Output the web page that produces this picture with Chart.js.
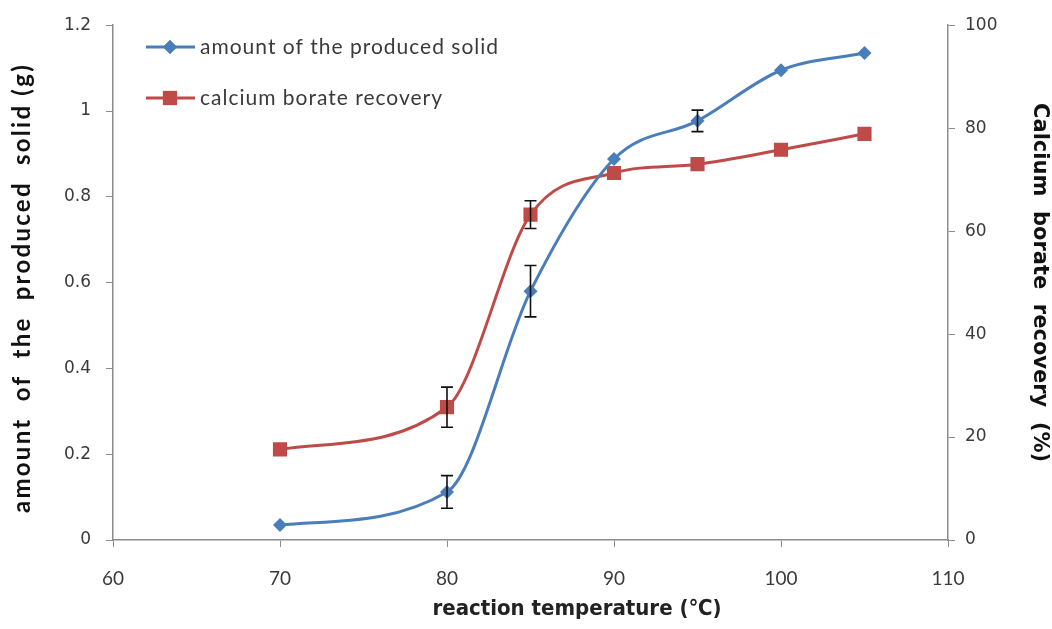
<!DOCTYPE html>
<html>
<head>
<meta charset="utf-8">
<script src="https://cdn.jsdelivr.net/npm/chart.js@4/dist/chart.umd.min.js"></script>
<style>
  html, body { margin: 0; padding: 0; background: #fff; }
  #wrap { width: 1052px; height: 629px; }
</style>
</head>
<body>
<div id="wrap"><canvas id="chart" width="1052" height="629"></canvas></div>
<script>
// reaction temperature (°C)
const temps = [70, 80, 85, 90, 95, 100, 105];
// amount of the produced solid (g), left axis
const solid = [0.035, 0.112, 0.58, 0.888, 0.977, 1.095, 1.135];
const solidErr = [0, 0.038, 0.06, 0, 0.025, 0, 0];
// calcium borate recovery (%), right axis
const recovery = [17.6, 25.8, 63.2, 71.3, 73.0, 75.8, 78.9];
const recoveryErr = [0, 3.9, 2.7, 0, 0, 0, 0];

const BLUE = '#4a7ebb', RED = '#be4b48';
const AXIS = '#8c8c8c', TXT = '#3a3a3a';
const pts = (ys) => temps.map((x, i) => ({ x, y: ys[i] }));

// error bars drawn from the scales
const errorBars = {
  id: 'errorBars',
  afterDatasetsDraw(chart) {
    const ctx = chart.ctx, xs = chart.scales.x;
    const sets = [[solid, solidErr, chart.scales.y], [recovery, recoveryErr, chart.scales.y2]];
    ctx.save();
    ctx.strokeStyle = '#111';
    ctx.lineWidth = 1.6;
    for (const [vals, errs, ys] of sets) {
      vals.forEach((v, i) => {
        if (!errs[i]) return;
        const px = xs.getPixelForValue(temps[i]);
        const top = ys.getPixelForValue(v + errs[i]), bot = ys.getPixelForValue(v - errs[i]);
        ctx.beginPath();
        ctx.moveTo(px, top); ctx.lineTo(px, bot);
        ctx.moveTo(px - 6, top); ctx.lineTo(px + 6, top);
        ctx.moveTo(px - 6, bot); ctx.lineTo(px + 6, bot);
        ctx.stroke();
      });
    }
    ctx.restore();
  }
};

// legend inside the plot (top left), left axis title and x axis title
const extras = {
  id: 'extras',
  afterDraw(chart) {
    const ctx = chart.ctx;
    const items = [
      { label: 'amount of the produced solid', color: BLUE, style: 'rectRot', r: 7, y: 47 },
      { label: 'calcium borate recovery', color: RED, style: 'rect', r: 10, y: 98 },
    ];
    ctx.save();
    for (const it of items) {
      ctx.strokeStyle = it.color;
      ctx.lineWidth = 3;
      ctx.beginPath(); ctx.moveTo(146, it.y); ctx.lineTo(195, it.y); ctx.stroke();
      ctx.fillStyle = it.color;
      Chart.helpers.drawPoint(ctx, { pointStyle: it.style, radius: it.r, borderWidth: 0 }, 170, it.y);
      ctx.fill();
      ctx.fillStyle = TXT;
      ctx.font = '21px Lato, "DejaVu Sans", sans-serif';
      ctx.letterSpacing = '1px';
      ctx.textBaseline = 'middle';
      ctx.textAlign = 'left';
      ctx.fillText(it.label, 200, it.y);
    }

    // left title: wide, loosely spaced like the original
    const t = 'amount  of  the  produced  solid (g)';
    ctx.font = 'bold 24px Lato, "DejaVu Sans", sans-serif';
    ctx.letterSpacing = '0px';
    const w0 = ctx.measureText(t).width;
    ctx.letterSpacing = Math.max(0, (450 - w0) / t.length).toFixed(2) + 'px';
    ctx.fillStyle = '#111';
    ctx.textAlign = 'center';
    ctx.translate(22, 288);
    ctx.rotate(-Math.PI / 2);
    ctx.fillText(t, 0, 0);
    ctx.setTransform(1, 0, 0, 1, 0, 0);

    ctx.letterSpacing = '0px';
    ctx.fillStyle = '#222';
    ctx.font = 'bold 22px "Liberation Sans Narrow", "DejaVu Sans Condensed", sans-serif';
    ctx.textAlign = 'center';
    ctx.textBaseline = 'middle';
    ctx.fillText('reaction temperature (℃)', 577, 609);
    ctx.restore();
  }
};

const yFont = { family: '"DejaVu Sans", sans-serif', size: 17 };

new Chart(document.getElementById('chart'), {
  type: 'line',
  data: {
    datasets: [
      {
        label: 'amount of the produced solid',
        data: pts(solid), yAxisID: 'y',
        borderColor: BLUE, backgroundColor: BLUE, borderWidth: 3,
        pointStyle: 'rectRot', pointRadius: 7, pointBorderWidth: 0,
        tension: 0.4, cubicInterpolationMode: 'monotone',
      },
      {
        label: 'calcium borate recovery',
        data: pts(recovery), yAxisID: 'y2',
        borderColor: RED, backgroundColor: RED, borderWidth: 3,
        pointStyle: 'rect', pointRadius: 10, pointBorderWidth: 0,
        tension: 0.4, cubicInterpolationMode: 'monotone',
      },
    ],
  },
  options: {
    responsive: false,
    animation: false,
    layout: { padding: { top: 24, left: 0, right: 0, bottom: 0 } },
    plugins: { legend: { display: false }, tooltip: { enabled: false } },
    scales: {
      x: {
        type: 'linear', min: 60, max: 110,
        afterFit: (s) => { s.height = 89; },
        border: { color: AXIS, width: 1.5 },
        grid: { drawOnChartArea: false, color: AXIS, tickLength: 7 },
        ticks: { stepSize: 10, color: TXT, font: { family: 'Lato, sans-serif', size: 19 }, padding: 20 },
      },
      y: {
        position: 'left', min: 0, max: 1.2,
        afterFit: (s) => { s.width = 113; },
        border: { color: AXIS, width: 1.5 },
        grid: { drawOnChartArea: false, color: AXIS, tickLength: 7 },
        ticks: { stepSize: 0.2, color: TXT, font: yFont, padding: 15, callback: (v) => String(+v.toFixed(1)) },
      },
      y2: {
        position: 'right', min: 0, max: 100,
        afterFit: (s) => { s.width = 104; },
        border: { color: AXIS, width: 1.5 },
        grid: { drawOnChartArea: false, color: AXIS, tickLength: 7 },
        ticks: { stepSize: 20, color: TXT, font: yFont, padding: 10 },
        title: {
          display: true, text: 'Calcium  borate  recovery  (%)', color: '#111',
          font: { family: '"DejaVu Sans", sans-serif', size: 21, weight: 'bold' },
          padding: { top: 0, bottom: 1 },
        },
      },
    },
  },
  plugins: [errorBars, extras],
});
</script>
</body>
</html>
